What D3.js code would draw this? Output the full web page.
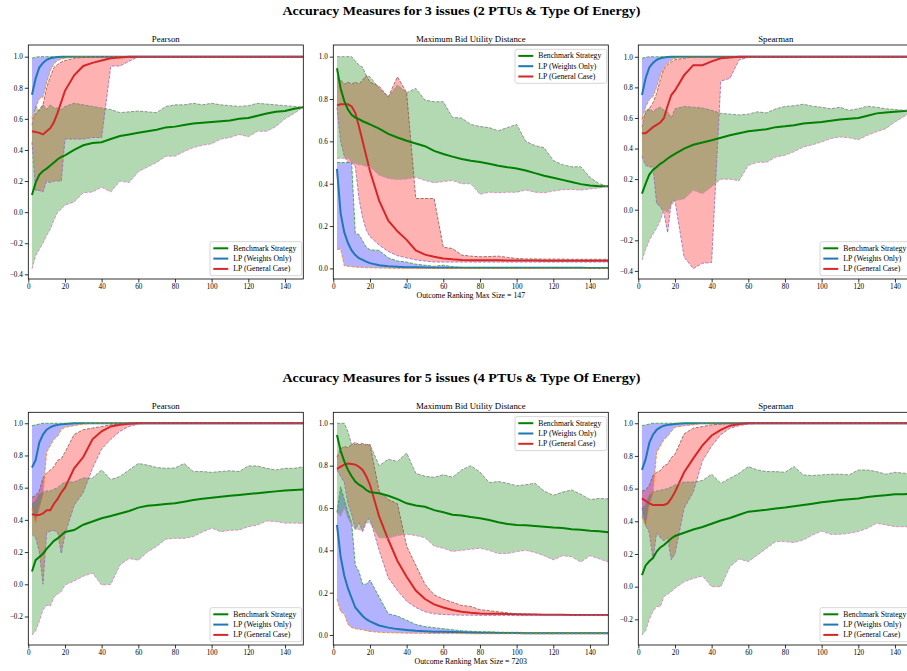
<!DOCTYPE html>
<html>
<head>
<meta charset="utf-8">
<script src="https://cdn.jsdelivr.net/npm/d3@7"></script>
<style>
  body { margin: 0; background: #fff; }
  svg { display: block; }
  text { font-family: "Liberation Serif", "DejaVu Serif", serif; }
</style>
</head>
<body>
<div id="chart"></div>
<script>
// x values (outcome ranking size) shared by every series
const outcome_sizes = [2, 4, 6, 8, 10, 12, 14, 16, 18, 20,
  25, 30, 35, 40, 45, 50, 55, 60, 65, 70, 75, 80, 85,
  90, 95, 100, 105, 110, 115, 120, 125, 130, 135, 140, 145, 150];

const series_names = ["Benchmark Strategy", "LP (Weights Only)", "LP (General Case)"];
const x_ticks = [0, 20, 40, 60, 80, 100, 120, 140];

// ---------- 3 issues : Pearson ----------
const pearson3_bench_mean = [0.11, 0.19, 0.24, 0.265, 0.28, 0.30, 0.32, 0.34, 0.355, 0.365,
  0.40, 0.43, 0.445, 0.45, 0.47, 0.49, 0.50, 0.51, 0.52, 0.53, 0.545, 0.55, 0.56,
  0.57, 0.575, 0.58, 0.585, 0.59, 0.60, 0.605, 0.62, 0.635, 0.645, 0.65, 0.665, 0.675];
const pearson3_bench_min = [-0.365, -0.28, -0.24, -0.2, -0.15, -0.11, -0.05, 0.0, 0.02, 0.045,
  0.065, 0.125, 0.13, 0.16, 0.13, 0.2, 0.19, 0.26, 0.29, 0.32, 0.36, 0.36, 0.39,
  0.415, 0.43, 0.44, 0.47, 0.48, 0.50, 0.485, 0.52, 0.52, 0.55, 0.60, 0.635, 0.675];
const pearson3_bench_max = [0.56, 0.68, 0.65, 0.69, 0.66, 0.69, 0.67, 0.67, 0.66, 0.68,
  0.70, 0.69, 0.68, 0.67, 0.66, 0.64, 0.645, 0.65, 0.645, 0.64, 0.68, 0.69, 0.69,
  0.70, 0.69, 0.70, 0.69, 0.685, 0.68, 0.685, 0.70, 0.695, 0.69, 0.685, 0.68, 0.675];
const pearson3_w_mean = [0.755, 0.86, 0.93, 0.96, 0.98, 0.99, 0.995, 0.998, 1.0, 1.0,
  1, 1, 1, 1, 1, 1, 1, 1, 1, 1, 1, 1, 1,
  1, 1, 1, 1, 1, 1, 1, 1, 1, 1, 1, 1, 1];
const pearson3_w_min = [0.61, 0.67, 0.73, 0.74, 0.83, 0.91, 0.955, 0.975, 0.985, 0.99,
  0.997, 1, 1, 1, 1, 1, 1, 1, 1, 1, 1, 1, 1,
  1, 1, 1, 1, 1, 1, 1, 1, 1, 1, 1, 1, 1];
const pearson3_w_max = [0.99, 0.997, 1, 1, 1, 1, 1, 1, 1, 1,
  1, 1, 1, 1, 1, 1, 1, 1, 1, 1, 1, 1, 1,
  1, 1, 1, 1, 1, 1, 1, 1, 1, 1, 1, 1, 1];
const pearson3_g_mean = [0.52, 0.515, 0.51, 0.50, 0.52, 0.54, 0.58, 0.64, 0.71, 0.78,
  0.88, 0.94, 0.96, 0.975, 0.99, 0.995, 1, 1, 1, 1, 1, 1, 1,
  1, 1, 1, 1, 1, 1, 1, 1, 1, 1, 1, 1, 1];
const pearson3_g_min = [0.45, 0.14, 0.14, 0.13, 0.2, 0.19, 0.2, 0.2, 0.2, 0.47,
  0.47, 0.47, 0.48, 0.48, 0.94, 0.94, 0.97, 1, 1, 1, 1, 1, 1,
  1, 1, 1, 1, 1, 1, 1, 1, 1, 1, 1, 1, 1];
const pearson3_g_max = [0.6, 0.63, 0.66, 0.69, 0.8, 0.87, 0.93, 0.95, 0.965, 0.975,
  0.99, 0.995, 1, 1, 1, 1, 1, 1, 1, 1, 1, 1, 1,
  1, 1, 1, 1, 1, 1, 1, 1, 1, 1, 1, 1, 1];

// ---------- 3 issues : Maximum Bid Utility Distance ----------
const mbud3_bench_mean = [0.945, 0.85, 0.79, 0.75, 0.725, 0.712, 0.705, 0.695, 0.688, 0.68,
  0.66, 0.635, 0.618, 0.603, 0.59, 0.577, 0.555, 0.54, 0.528, 0.517, 0.508, 0.502, 0.494,
  0.485, 0.478, 0.472, 0.462, 0.45, 0.438, 0.428, 0.418, 0.408, 0.398, 0.392, 0.388, 0.388];
const mbud3_bench_min = [0.52, 0.52, 0.52, 0.52, 0.5, 0.495, 0.49, 0.488, 0.48, 0.48,
  0.44, 0.425, 0.42, 0.422, 0.43, 0.415, 0.405, 0.41, 0.415, 0.40, 0.40, 0.35, 0.36,
  0.357, 0.36, 0.36, 0.37, 0.36, 0.357, 0.365, 0.372, 0.373, 0.37, 0.375, 0.38, 0.387];
const mbud3_bench_max = [1.0, 1.0, 1.0, 1.0, 1.0, 0.98, 0.96, 0.95, 0.91, 0.905,
  0.85, 0.81, 0.865, 0.83, 0.85, 0.795, 0.787, 0.787, 0.713, 0.71, 0.68, 0.67, 0.665,
  0.65, 0.665, 0.68, 0.6, 0.58, 0.57, 0.51, 0.49, 0.48, 0.48, 0.43, 0.40, 0.388];
const mbud3_w_mean = [0.47, 0.26, 0.17, 0.12, 0.085, 0.063, 0.048, 0.04, 0.032, 0.025,
  0.015, 0.01, 0.008, 0.006, 0.005, 0.004, 0.003, 0.003, 0.003, 0.003, 0.003, 0.003, 0.003,
  0.003, 0.003, 0.003, 0.003, 0.003, 0.003, 0.003, 0.003, 0.003, 0.003, 0.002, 0.002, 0.002];
const mbud3_w_min = [0.09, 0.09, 0.012, 0.01, 0.008, 0.006, 0.005, 0.004, 0.003, 0.003,
  0.002, 0.001, 0, 0, 0, 0, 0, 0, 0, 0, 0, 0, 0,
  0, 0, 0, 0, 0, 0, 0, 0, 0, 0, 0, 0, 0];
const mbud3_w_max = [0.5, 0.5, 0.5, 0.5, 0.5, 0.165, 0.16, 0.13, 0.1, 0.088,
  0.085, 0.05, 0.035, 0.03, 0.02, 0.015, 0.01, 0.015, 0.008, 0.005, 0.003, 0.003, 0.003,
  0.003, 0.003, 0.003, 0.003, 0.003, 0.003, 0.003, 0.003, 0.003, 0.003, 0.003, 0.003, 0.003];
const mbud3_g_mean = [0.77, 0.775, 0.775, 0.775, 0.765, 0.735, 0.67, 0.6, 0.53, 0.46,
  0.32, 0.225, 0.175, 0.135, 0.085, 0.065, 0.055, 0.047, 0.043, 0.04, 0.039, 0.038, 0.038,
  0.038, 0.037, 0.037, 0.037, 0.037, 0.036, 0.036, 0.036, 0.036, 0.036, 0.036, 0.036, 0.036];
const mbud3_g_min = [0.76, 0.6, 0.53, 0.5, 0.5, 0.48, 0.33, 0.24, 0.18, 0.15,
  0.11, 0.08, 0.06, 0.05, 0.04, 0.035, 0.03, 0.03, 0.03, 0.03, 0.03, 0.03, 0.03,
  0.03, 0.03, 0.03, 0.03, 0.03, 0.03, 0.03, 0.03, 0.03, 0.03, 0.03, 0.03, 0.03];
const mbud3_g_max = [0.9, 0.89, 0.87, 0.88, 0.87, 0.88, 0.87, 0.89, 0.91, 0.88,
  0.86, 0.81, 0.905, 0.83, 0.33, 0.33, 0.33, 0.1, 0.094, 0.063, 0.058, 0.055, 0.056,
  0.058, 0.052, 0.047, 0.045, 0.045, 0.044, 0.044, 0.044, 0.043, 0.043, 0.043, 0.043, 0.043];

// ---------- 3 issues : Spearman ----------
const spearman3_bench_mean = [0.105, 0.17, 0.23, 0.26, 0.28, 0.30, 0.315, 0.335, 0.35, 0.365,
  0.40, 0.425, 0.44, 0.454, 0.47, 0.487, 0.50, 0.513, 0.52, 0.526, 0.54, 0.545, 0.552,
  0.563, 0.568, 0.574, 0.582, 0.59, 0.595, 0.60, 0.615, 0.63, 0.635, 0.64, 0.645, 0.65];
const spearman3_bench_min = [-0.33, -0.26, -0.2, -0.16, -0.12, -0.07, 0.0, -0.02, 0.03, 0.06,
  0.07, 0.127, 0.105, 0.15, 0.2, 0.2, 0.19, 0.29, 0.31, 0.31, 0.345, 0.356, 0.38,
  0.41, 0.425, 0.443, 0.465, 0.476, 0.47, 0.458, 0.487, 0.51, 0.53, 0.574, 0.61, 0.645];
const spearman3_bench_max = [0.54, 0.65, 0.66, 0.64, 0.66, 0.67, 0.65, 0.64, 0.60, 0.66,
  0.675, 0.67, 0.665, 0.65, 0.63, 0.625, 0.62, 0.625, 0.64, 0.633, 0.66, 0.675, 0.68,
  0.69, 0.677, 0.67, 0.66, 0.67, 0.65, 0.66, 0.677, 0.67, 0.66, 0.655, 0.65, 0.65];
const spearman3_w_mean = [0.75, 0.86, 0.93, 0.96, 0.98, 0.99, 0.995, 0.998, 1, 1,
  1, 1, 1, 1, 1, 1, 1, 1, 1, 1, 1, 1, 1,
  1, 1, 1, 1, 1, 1, 1, 1, 1, 1, 1, 1, 1];
const spearman3_w_min = [0.6, 0.67, 0.72, 0.74, 0.8, 0.88, 0.93, 0.96, 0.975, 0.99,
  0.995, 1, 1, 1, 1, 1, 1, 1, 1, 1, 1, 1, 1,
  1, 1, 1, 1, 1, 1, 1, 1, 1, 1, 1, 1, 1];
const spearman3_w_max = [0.99, 0.997, 1, 1, 1, 1, 1, 1, 1, 1,
  1, 1, 1, 1, 1, 1, 1, 1, 1, 1, 1, 1, 1,
  1, 1, 1, 1, 1, 1, 1, 1, 1, 1, 1, 1, 1];
const spearman3_g_mean = [0.5, 0.5, 0.52, 0.54, 0.555, 0.57, 0.6, 0.68, 0.75, 0.78,
  0.88, 0.945, 0.945, 0.97, 0.99, 0.995, 1, 1, 1, 1, 1, 1, 1,
  1, 1, 1, 1, 1, 1, 1, 1, 1, 1, 1, 1, 1];
const spearman3_g_min = [0.35, 0.29, 0.28, 0.28, 0.04, 0.02, -0.02, -0.15, 0.05, 0.06,
  -0.31, -0.385, -0.35, -0.345, 0.84, 0.86, 0.98, 0.995, 1, 1, 1, 1, 1,
  1, 1, 1, 1, 1, 1, 1, 1, 1, 1, 1, 1, 1];
const spearman3_g_max = [0.59, 0.63, 0.66, 0.70, 0.76, 0.85, 0.92, 0.95, 0.965, 0.98,
  0.99, 1, 1, 1, 1, 1, 1, 1, 1, 1, 1, 1, 1,
  1, 1, 1, 1, 1, 1, 1, 1, 1, 1, 1, 1, 1];

// ---------- 5 issues : Pearson ----------
const pearson5_bench_mean = [0.079, 0.15, 0.17, 0.19, 0.22, 0.245, 0.27, 0.285, 0.305, 0.325,
  0.337, 0.37, 0.39, 0.41, 0.424, 0.44, 0.455, 0.476, 0.487, 0.493, 0.498, 0.503, 0.513,
  0.524, 0.531, 0.538, 0.544, 0.55, 0.555, 0.561, 0.566, 0.571, 0.577, 0.582, 0.586, 0.588];
const pearson5_bench_min = [-0.315, -0.29, -0.23, -0.16, -0.13, -0.135, -0.08, -0.06, -0.045, -0.005,
  0.02, 0.05, 0.07, -0.005, 0.0, 0.12, 0.16, 0.15, 0.2, 0.235, 0.28, 0.286, 0.285,
  0.296, 0.325, 0.348, 0.327, 0.335, 0.337, 0.358, 0.368, 0.393, 0.39, 0.38, 0.38, 0.378];
const pearson5_bench_max = [0.5, 0.52, 0.56, 0.57, 0.58, 0.58, 0.59, 0.6, 0.62, 0.635,
  0.635, 0.66, 0.66, 0.71, 0.65, 0.67, 0.71, 0.75, 0.74, 0.725, 0.72, 0.722, 0.75,
  0.70, 0.70, 0.695, 0.70, 0.705, 0.70, 0.735, 0.735, 0.72, 0.71, 0.72, 0.72, 0.73];
const pearson5_w_mean = [0.725, 0.77, 0.88, 0.93, 0.96, 0.975, 0.985, 0.99, 0.993, 0.995,
  1, 1, 1, 1, 1, 1, 1, 1, 1, 1, 1, 1, 1,
  1, 1, 1, 1, 1, 1, 1, 1, 1, 1, 1, 1, 1];
const pearson5_w_min = [0.47, 0.38, 0.47, 0.55, 0.82, 0.86, 0.9, 0.92, 0.96, 0.975,
  0.985, 0.995, 1, 1, 1, 1, 1, 1, 1, 1, 1, 1, 1,
  1, 1, 1, 1, 1, 1, 1, 1, 1, 1, 1, 1, 1];
const pearson5_w_max = [0.985, 0.99, 0.995, 1, 1, 1, 1, 1, 1, 1,
  1, 1, 1, 1, 1, 1, 1, 1, 1, 1, 1, 1, 1,
  1, 1, 1, 1, 1, 1, 1, 1, 1, 1, 1, 1, 1];
const pearson5_g_mean = [0.435, 0.43, 0.43, 0.44, 0.46, 0.46, 0.5, 0.53, 0.57, 0.6,
  0.72, 0.79, 0.9, 0.95, 0.98, 0.99, 0.997, 1, 1, 1, 1, 1, 1,
  1, 1, 1, 1, 1, 1, 1, 1, 1, 1, 1, 1, 1];
const pearson5_g_min = [0.31, 0.29, 0.2, 0.0, 0.32, 0.33, 0.335, 0.32, 0.19, 0.31,
  0.49, 0.57, 0.72, 0.84, 0.9, 0.95, 0.98, 0.995, 1, 1, 1, 1, 1,
  1, 1, 1, 1, 1, 1, 1, 1, 1, 1, 1, 1, 1];
const pearson5_g_max = [0.54, 0.55, 0.58, 0.66, 0.69, 0.71, 0.73, 0.77, 0.78, 0.82,
  0.93, 0.96, 0.97, 0.98, 0.99, 0.995, 1, 1, 1, 1, 1, 1, 1,
  1, 1, 1, 1, 1, 1, 1, 1, 1, 1, 1, 1, 1];

// ---------- 5 issues : Maximum Bid Utility Distance ----------
const mbud5_bench_mean = [0.945, 0.87, 0.82, 0.78, 0.75, 0.725, 0.71, 0.70, 0.685, 0.675,
  0.67, 0.658, 0.642, 0.622, 0.612, 0.606, 0.59, 0.58, 0.568, 0.565, 0.558, 0.552, 0.543,
  0.533, 0.525, 0.52, 0.518, 0.515, 0.512, 0.508, 0.505, 0.50, 0.497, 0.493, 0.49, 0.485];
const mbud5_bench_min = [0.58, 0.56, 0.6, 0.55, 0.52, 0.5, 0.5, 0.49, 0.53, 0.53,
  0.46, 0.457, 0.47, 0.476, 0.47, 0.46, 0.42, 0.41, 0.395, 0.40, 0.405, 0.41, 0.40,
  0.385, 0.385, 0.394, 0.40, 0.39, 0.375, 0.355, 0.375, 0.37, 0.345, 0.375, 0.36, 0.345];
const mbud5_bench_max = [1.0, 1.0, 1.0, 0.96, 0.9, 0.9, 0.9, 0.9, 0.895, 0.9,
  0.8, 0.83, 0.82, 0.86, 0.764, 0.75, 0.745, 0.757, 0.745, 0.78, 0.80, 0.77, 0.72,
  0.725, 0.717, 0.705, 0.71, 0.717, 0.68, 0.66, 0.675, 0.685, 0.665, 0.64, 0.645, 0.643];
const mbud5_w_mean = [0.52, 0.37, 0.28, 0.22, 0.175, 0.13, 0.11, 0.09, 0.075, 0.065,
  0.045, 0.035, 0.028, 0.024, 0.02, 0.018, 0.016, 0.015, 0.014, 0.013, 0.012, 0.011, 0.011,
  0.01, 0.01, 0.01, 0.009, 0.009, 0.009, 0.009, 0.008, 0.008, 0.008, 0.008, 0.008, 0.008];
const mbud5_w_min = [0.17, 0.11, 0.1, 0.05, 0.035, 0.03, 0.027, 0.025, 0.02, 0.017,
  0.013, 0.011, 0.01, 0.009, 0.008, 0.008, 0.007, 0.007, 0.007, 0.007, 0.006, 0.006, 0.006,
  0.006, 0.006, 0.006, 0.006, 0.006, 0.006, 0.006, 0.006, 0.006, 0.006, 0.006, 0.006, 0.006];
const mbud5_w_max = [0.58, 0.7, 0.64, 0.58, 0.53, 0.33, 0.3, 0.24, 0.24, 0.26,
  0.18, 0.1, 0.09, 0.07, 0.05, 0.04, 0.035, 0.03, 0.025, 0.02, 0.018, 0.016, 0.015,
  0.014, 0.013, 0.013, 0.012, 0.012, 0.012, 0.012, 0.012, 0.012, 0.012, 0.012, 0.012, 0.012];
const mbud5_g_mean = [0.785, 0.795, 0.805, 0.81, 0.808, 0.805, 0.795, 0.78, 0.75, 0.71,
  0.56, 0.45, 0.35, 0.275, 0.21, 0.17, 0.145, 0.13, 0.118, 0.11, 0.105, 0.102, 0.1,
  0.1, 0.099, 0.098, 0.097, 0.097, 0.096, 0.096, 0.096, 0.095, 0.095, 0.095, 0.095, 0.095];
const mbud5_g_min = [0.78, 0.75, 0.72, 0.62, 0.57, 0.5, 0.53, 0.49, 0.54, 0.55,
  0.4, 0.27, 0.21, 0.16, 0.13, 0.11, 0.1, 0.097, 0.095, 0.094, 0.094, 0.093, 0.093,
  0.093, 0.093, 0.092, 0.092, 0.092, 0.092, 0.092, 0.092, 0.092, 0.092, 0.092, 0.092, 0.092];
const mbud5_g_max = [0.84, 0.88, 0.89, 0.885, 0.9, 0.91, 0.9, 0.905, 0.9, 0.9,
  0.68, 0.64, 0.62, 0.42, 0.33, 0.24, 0.19, 0.17, 0.155, 0.14, 0.135, 0.12, 0.115,
  0.11, 0.105, 0.1, 0.1, 0.098, 0.097, 0.097, 0.096, 0.096, 0.096, 0.096, 0.096, 0.096];

// ---------- 5 issues : Spearman ----------
const spearman5_bench_mean = [0.071, 0.13, 0.155, 0.175, 0.215, 0.24, 0.255, 0.275, 0.295, 0.31,
  0.33, 0.35, 0.365, 0.385, 0.405, 0.42, 0.44, 0.459, 0.465, 0.47, 0.478, 0.484, 0.492,
  0.5, 0.508, 0.516, 0.523, 0.53, 0.535, 0.54, 0.548, 0.555, 0.56, 0.565, 0.566, 0.567];
const spearman5_bench_min = [-0.296, -0.27, -0.2, -0.15, -0.122, -0.122, -0.06, -0.047, -0.03, -0.01,
  0.03, 0.05, 0.065, 0.0, 0.0, 0.122, 0.17, 0.153, 0.194, 0.235, 0.276, 0.276, 0.27,
  0.286, 0.316, 0.34, 0.32, 0.32, 0.327, 0.337, 0.357, 0.388, 0.378, 0.367, 0.367, 0.367];
const spearman5_bench_max = [0.48, 0.5, 0.56, 0.58, 0.585, 0.59, 0.595, 0.6, 0.61, 0.622,
  0.64, 0.64, 0.65, 0.688, 0.633, 0.663, 0.694, 0.735, 0.714, 0.704, 0.704, 0.70, 0.735,
  0.684, 0.68, 0.684, 0.688, 0.688, 0.684, 0.714, 0.714, 0.704, 0.688, 0.70, 0.694, 0.694];
const spearman5_w_mean = [0.715, 0.78, 0.88, 0.93, 0.96, 0.975, 0.985, 0.99, 0.993, 0.995,
  1, 1, 1, 1, 1, 1, 1, 1, 1, 1, 1, 1, 1,
  1, 1, 1, 1, 1, 1, 1, 1, 1, 1, 1, 1, 1];
const spearman5_w_min = [0.43, 0.37, 0.5, 0.57, 0.82, 0.86, 0.9, 0.92, 0.95, 0.975,
  0.985, 0.99, 1, 1, 1, 1, 1, 1, 1, 1, 1, 1, 1,
  1, 1, 1, 1, 1, 1, 1, 1, 1, 1, 1, 1, 1];
const spearman5_w_max = [0.985, 0.99, 0.995, 1, 1, 1, 1, 1, 1, 1,
  1, 1, 1, 1, 1, 1, 1, 1, 1, 1, 1, 1, 1,
  1, 1, 1, 1, 1, 1, 1, 1, 1, 1, 1, 1, 1];
const spearman5_g_mean = [0.54, 0.525, 0.51, 0.5, 0.5, 0.5, 0.5, 0.51, 0.54, 0.58,
  0.7, 0.785, 0.865, 0.925, 0.96, 0.985, 0.995, 1, 1, 1, 1, 1, 1,
  1, 1, 1, 1, 1, 1, 1, 1, 1, 1, 1, 1, 1];
const spearman5_g_min = [0.48, 0.38, 0.33, 0.17, 0.33, 0.3, 0.28, 0.3, 0.165, 0.2,
  0.48, 0.58, 0.77, 0.86, 0.93, 0.97, 0.985, 0.995, 1, 1, 1, 1, 1,
  1, 1, 1, 1, 1, 1, 1, 1, 1, 1, 1, 1, 1];
const spearman5_g_max = [0.585, 0.59, 0.62, 0.68, 0.7, 0.71, 0.74, 0.75, 0.79, 0.81,
  0.935, 0.97, 0.98, 0.99, 0.995, 1, 1, 1, 1, 1, 1, 1, 1,
  1, 1, 1, 1, 1, 1, 1, 1, 1, 1, 1, 1, 1];

// ---------- layout ----------
const width = 907, height = 671;
const col_left = [28.3, 333.3, 638.3];
const row_top = [45, 412.3];
const row_height = [234, 232.7];
const panel_width = 275;

const line_colors = { bench: "green", weights: "#1f77b4", general: "#d62728" };
const fill_colors = { bench: "green", weights: "blue", general: "red" };
// dashed min / max edges pick up matplotlib's default colour cycle
const edge_colors = {
  weights: ["#ff7f0e", "#2ca02c"],
  general: ["#9467bd", "#8c564b"],
  bench: ["#e377c2", "#7f7f7f"],
};

const panels = [
  { row: 0, col: 0, title: "Pearson", ylim: [-0.43, 1.075], yticks: [-0.4, -0.2, 0, 0.2, 0.4, 0.6, 0.8, 1.0], legend: "lower",
    data: { weights: [pearson3_w_mean, pearson3_w_min, pearson3_w_max], general: [pearson3_g_mean, pearson3_g_min, pearson3_g_max], bench: [pearson3_bench_mean, pearson3_bench_min, pearson3_bench_max] } },
  { row: 0, col: 1, title: "Maximum Bid Utility Distance", ylim: [-0.05, 1.055], yticks: [0, 0.2, 0.4, 0.6, 0.8, 1.0], legend: "upper",
    xlabel: "Outcome Ranking Max Size = 147",
    data: { weights: [mbud3_w_mean, mbud3_w_min, mbud3_w_max], general: [mbud3_g_mean, mbud3_g_min, mbud3_g_max], bench: [mbud3_bench_mean, mbud3_bench_min, mbud3_bench_max] } },
  { row: 0, col: 2, title: "Spearman", ylim: [-0.453, 1.077], yticks: [-0.4, -0.2, 0, 0.2, 0.4, 0.6, 0.8, 1.0], legend: "lower",
    data: { weights: [spearman3_w_mean, spearman3_w_min, spearman3_w_max], general: [spearman3_g_mean, spearman3_g_min, spearman3_g_max], bench: [spearman3_bench_mean, spearman3_bench_min, spearman3_bench_max] } },
  { row: 1, col: 0, title: "Pearson", ylim: [-0.377, 1.068], yticks: [-0.2, 0, 0.2, 0.4, 0.6, 0.8, 1.0], legend: "lower",
    data: { weights: [pearson5_w_mean, pearson5_w_min, pearson5_w_max], general: [pearson5_g_mean, pearson5_g_min, pearson5_g_max], bench: [pearson5_bench_mean, pearson5_bench_min, pearson5_bench_max] } },
  { row: 1, col: 1, title: "Maximum Bid Utility Distance", ylim: [-0.047, 1.052], yticks: [0, 0.2, 0.4, 0.6, 0.8, 1.0], legend: "upper",
    xlabel: "Outcome Ranking Max Size = 7203",
    data: { weights: [mbud5_w_mean, mbud5_w_min, mbud5_w_max], general: [mbud5_g_mean, mbud5_g_min, mbud5_g_max], bench: [mbud5_bench_mean, mbud5_bench_min, mbud5_bench_max] } },
  { row: 1, col: 2, title: "Spearman", ylim: [-0.357, 1.067], yticks: [-0.2, 0, 0.2, 0.4, 0.6, 0.8, 1.0], legend: "lower",
    data: { weights: [spearman5_w_mean, spearman5_w_min, spearman5_w_max], general: [spearman5_g_mean, spearman5_g_min, spearman5_g_max], bench: [spearman5_bench_mean, spearman5_bench_min, spearman5_bench_max] } },
];

const svg = d3.select("#chart").append("svg")
  .attr("width", width)
  .attr("height", height);

// Figure titles
svg.append("text").attr("x", 461.5).attr("y", 15).attr("text-anchor", "middle")
  .attr("font-weight", "bold").attr("font-size", 12.5)
  .attr("textLength", 358).attr("lengthAdjust", "spacingAndGlyphs")
  .text("Accuracy Measures for 3 issues (2 PTUs & Type Of Energy)");
svg.append("text").attr("x", 461.5).attr("y", 382).attr("text-anchor", "middle")
  .attr("font-weight", "bold").attr("font-size", 12.5)
  .attr("textLength", 358).attr("lengthAdjust", "spacingAndGlyphs")
  .text("Accuracy Measures for 5 issues (4 PTUs & Type Of Energy)");

const fmt = d3.format(".1f");

panels.forEach(function (p, pi) {
  const h = row_height[p.row];
  const g = svg.append("g")
    .attr("transform", `translate(${col_left[p.col]},${row_top[p.row]})`);

  const x = d3.scaleLinear().domain([0, 150]).range([0, panel_width]);
  const y = d3.scaleLinear().domain(p.ylim).range([h, 0]);

  g.append("clipPath").attr("id", "clip" + pi)
    .append("rect").attr("width", panel_width).attr("height", h);
  const plot = g.append("g").attr("clip-path", `url(#clip${pi})`);

  const area = d3.area()
    .x((d, i) => x(outcome_sizes[i]))
    .y0((d) => y(d[0]))
    .y1((d) => y(d[1]));
  const line = d3.line()
    .x((d, i) => x(outcome_sizes[i]))
    .y((d) => y(d));

  // bands first (blue, red, then green on top), lines afterwards
  ["weights", "general", "bench"].forEach(function (k) {
    const lo = p.data[k][1], hi = p.data[k][2];
    plot.append("path")
      .datum(lo.map((v, i) => [v, hi[i]]))
      .attr("d", area)
      .attr("fill", fill_colors[k])
      .attr("fill-opacity", 0.3);
  });
  ["weights", "general", "bench"].forEach(function (k) {
    const [mean, lo, hi] = p.data[k];
    plot.append("path").datum(mean).attr("d", line)
      .attr("fill", "none").attr("stroke", line_colors[k]).attr("stroke-width", 2);
    [lo, hi].forEach(function (s, j) {
      plot.append("path").datum(s).attr("d", line)
        .attr("fill", "none").attr("stroke", edge_colors[k][j])
        .attr("stroke-width", 0.8).attr("stroke-dasharray", "3.2,1.4");
    });
  });

  // axes
  const xAxis = g.append("g").attr("transform", `translate(0,${h})`)
    .call(d3.axisBottom(x).tickValues(x_ticks).tickSize(3.5).tickPadding(1.5));
  const yAxis = g.append("g")
    .call(d3.axisLeft(y).tickValues(p.yticks).tickSize(3.5).tickPadding(2).tickFormat(fmt));
  [xAxis, yAxis].forEach(function (a) {
    a.attr("font-family", null).attr("font-size", 7.2);
    a.select(".domain").remove();
    a.selectAll("line").attr("stroke", "#000").attr("stroke-width", 0.8);
    a.selectAll("text").attr("fill", "#000");
  });

  g.append("rect").attr("width", panel_width).attr("height", h)
    .attr("fill", "none").attr("stroke", "#000").attr("stroke-width", 0.8);

  g.append("text").attr("x", panel_width / 2).attr("y", -3.5)
    .attr("text-anchor", "middle").attr("font-size", 8.8).text(p.title);

  if (p.xlabel) {
    g.append("text").attr("x", panel_width / 2).attr("y", h + 19)
      .attr("text-anchor", "middle").attr("font-size", 7.8).text(p.xlabel);
  }

  // legend
  const bw = 91.7, bh = 34;
  const bx = panel_width - 1.6 - bw;
  const by = p.legend === "upper" ? 4.3 : h - 3.3 - bh;
  const lg = g.append("g").attr("transform", `translate(${bx},${by})`);
  lg.append("rect").attr("width", bw).attr("height", bh).attr("rx", 2)
    .attr("fill", "#fff").attr("fill-opacity", 0.8)
    .attr("stroke", "#ccc").attr("stroke-width", 0.8);
  ["bench", "weights", "general"].forEach(function (k, i) {
    const ly = 6.6 + i * 10.3;
    lg.append("line").attr("x1", 3.3).attr("x2", 18.3).attr("y1", ly).attr("y2", ly)
      .attr("stroke", line_colors[k]).attr("stroke-width", 2);
    lg.append("text").attr("x", 23.3).attr("y", ly + 2.5)
      .attr("font-size", 7.7).text(series_names[i]);
  });
});
</script>
</body>
</html>
